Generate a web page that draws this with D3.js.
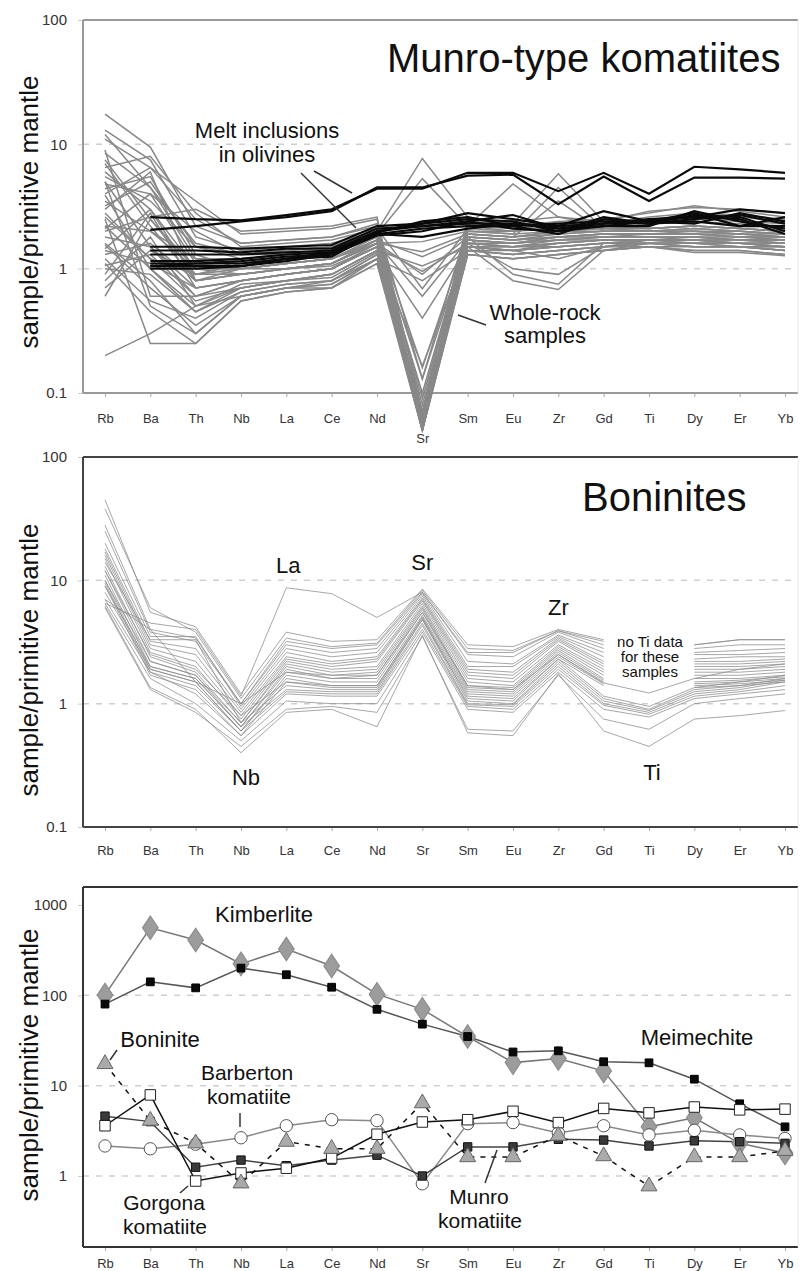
<!DOCTYPE html>
<html>
<head>
<meta charset="utf-8">
<script src="https://cdn.jsdelivr.net/npm/d3@7"></script>
<style>
  body { margin: 0; background: #fff; }
  svg { font-family: "Liberation Sans", Arial, Helvetica, sans-serif; }
</style>
</head>
<body>
<script>
// Data
const elements = ["Rb","Ba","Th","Nb","La","Ce","Nd","Sr","Sm","Eu","Zr","Gd","Ti","Dy","Er","Yb"];
const yTicksTop = [0.1, 1, 10, 100];
const yTicksBottom = [1, 10, 100, 1000];

// Munro-type komatiites: melt inclusions in olivines (no Rb)
const meltInclusions = [
  [null, 2.6, 2.5, 2.45, 2.7, 3.0, 4.4, 4.4, 5.9, 5.9, 4.2, 5.9, 4.0, 6.6, 6.3, 5.9],
  [null, 2.05, 2.2, 2.4, 2.6, 2.9, 4.5, 4.5, 5.6, 5.7, 3.3, 5.5, 3.5, 5.4, 5.4, 5.3],
  [null, 1.5, 1.5, 1.45, 1.5, 1.55, 2.2, 2.3, 2.8, 2.5, 2.2, 2.9, 2.4, 2.6, 3.0, 2.8],
  [null, 1.4, 1.4, 1.35, 1.45, 1.45, 2.1, 2.2, 2.4, 2.7, 2.1, 2.3, 2.4, 2.8, 2.2, 2.6],
  [null, 1.3, 1.3, 1.3, 1.35, 1.4, 2.0, 2.3, 2.5, 2.4, 2.0, 2.6, 2.3, 2.5, 2.7, 2.3],
  [null, 1.15, 1.15, 1.2, 1.3, 1.35, 2.0, 2.2, 2.3, 2.3, 2.1, 2.2, 2.2, 2.9, 2.4, 2.1],
  [null, 1.1, 1.1, 1.1, 1.2, 1.35, 1.9, 2.1, 2.2, 2.2, 2.3, 2.4, 2.3, 2.7, 2.6, 2.0],
  [null, 1.05, 1.05, 1.05, 1.15, 1.3, 1.85, 2.0, 2.4, 2.1, 2.0, 2.2, 2.4, 2.3, 2.8, 2.4],
  [null, 1.05, 1.1, 1.15, 1.25, 1.3, 1.9, 1.8, 2.1, 2.3, 2.2, 2.3, 2.5, 2.6, 2.5, 1.9],
  [null, 1.0, 1.0, 1.05, 1.2, 1.25, 1.95, 2.4, 2.6, 2.2, 1.9, 2.5, 2.3, 2.4, 2.2, 2.2]
];

// Munro-type komatiites: whole-rock samples
const wholeRock = [
  [17.5, 9.5, 2.2, 1.6, 1.7, 1.8, 2.2, 0.06, 2.2, 2.0, 2.4, 2.3, 2.6, 2.8, 2.7, 2.5],
  [13, 7.5, 1.8, 1.4, 1.5, 1.6, 2.0, 0.05, 1.9, 1.8, 2.0, 2.1, 2.1, 2.2, 2.1, 2.0],
  [11, 6.5, 3.5, 1.9, 2.0, 2.1, 2.5, 0.07, 2.4, 2.4, 2.6, 2.4, 2.9, 3.1, 3.0, 2.8],
  [8.5, 4.5, 1.2, 1.1, 1.2, 1.3, 1.8, 0.055, 1.8, 1.7, 1.9, 2.0, 2.0, 2.0, 1.9, 1.8],
  [7.5, 2.5, 0.9, 0.9, 1.0, 1.1, 1.7, 0.05, 1.7, 1.6, 1.8, 1.9, 1.9, 1.9, 1.9, 1.8],
  [6.5, 8.0, 2.8, 1.5, 1.6, 1.7, 2.1, 0.06, 2.0, 2.0, 2.1, 2.2, 2.1, 2.2, 2.1, 2.0],
  [5.5, 3.5, 1.5, 1.2, 1.3, 1.4, 1.9, 0.08, 1.9, 1.8, 1.9, 2.0, 2.0, 2.1, 2.0, 1.9],
  [5.0, 1.5, 0.6, 0.8, 0.9, 1.0, 1.5, 0.065, 1.6, 1.5, 1.7, 1.8, 1.8, 1.8, 1.7, 1.7],
  [4.4, 5.5, 1.3, 1.0, 1.1, 1.2, 1.7, 0.07, 1.7, 1.6, 1.8, 1.8, 1.9, 1.9, 1.8, 1.7],
  [3.9, 1.0, 0.45, 0.7, 0.8, 0.9, 1.4, 0.055, 1.5, 1.4, 1.6, 1.7, 1.7, 1.7, 1.6, 1.6],
  [3.0, 6.0, 0.8, 1.0, 1.1, 1.2, 1.6, 0.1, 1.8, 1.7, 1.8, 1.9, 1.9, 2.0, 1.9, 1.8],
  [2.2, 2.0, 1.0, 1.0, 1.1, 1.2, 1.7, 0.13, 1.7, 1.6, 1.7, 1.8, 1.8, 1.8, 1.8, 1.7],
  [2.1, 4.0, 2.0, 1.3, 1.3, 1.4, 1.9, 0.16, 1.9, 1.8, 2.0, 2.0, 2.0, 2.0, 1.9, 1.9],
  [1.55, 0.7, 0.35, 0.6, 0.7, 0.75, 1.2, 0.05, 1.4, 1.3, 1.4, 1.5, 1.6, 1.6, 1.5, 1.5],
  [1.45, 3.0, 0.8, 0.9, 1.0, 1.1, 1.6, 0.05, 1.6, 1.5, 1.6, 1.7, 1.7, 1.7, 1.7, 1.6],
  [1.06, 1.3, 0.6, 0.8, 0.9, 1.0, 1.5, 0.06, 1.5, 1.5, 1.6, 1.7, 1.7, 1.7, 1.6, 1.6],
  [0.8, 1.8, 0.5, 0.75, 0.8, 0.9, 1.4, 0.05, 1.5, 1.4, 1.5, 1.6, 1.6, 1.6, 1.6, 1.5],
  [0.6, 2.5, 1.0, 0.9, 1.0, 1.05, 1.5, 0.07, 1.6, 1.6, 1.7, 1.7, 1.7, 1.8, 1.7, 1.7],
  [0.2, 0.3, 0.5, 0.6, 0.7, 0.8, 1.2, 0.05, 1.3, 1.2, 1.3, 1.4, 1.5, 1.4, 1.4, 1.3],
  [2.5, 0.25, 0.25, 0.55, 0.65, 0.7, 1.1, 0.05, 1.3, 1.2, 1.3, 1.4, 1.5, 1.35, 1.35, 1.27],
  [1.2, 0.55, 0.4, 0.65, 0.75, 0.8, 1.3, 0.06, 1.4, 1.3, 1.4, 1.5, 1.6, 1.5, 1.5, 1.4],
  [9.0, 0.6, 0.6, 0.7, 0.8, 0.85, 1.35, 0.07, 1.5, 1.4, 1.5, 1.6, 1.6, 1.6, 1.5, 1.5],
  [6.0, 3.0, 1.0, 1.0, 1.0, 1.1, 1.6, 0.9, 1.8, 1.7, 1.8, 1.9, 1.9, 1.9, 1.8, 1.8],
  [2.8, 1.2, 0.9, 1.1, 1.2, 1.4, 2.0, 7.7, 2.6, 2.3, 5.8, 2.4, 2.3, 2.5, 2.4, 2.3],
  [3.5, 2.0, 1.2, 1.2, 1.3, 1.4, 1.9, 5.3, 2.2, 4.8, 2.6, 2.2, 2.3, 2.4, 2.3, 2.2],
  [1.8, 1.5, 0.7, 0.8, 0.9, 1.0, 1.6, 1.65, 2.0, 1.9, 4.5, 2.1, 2.1, 2.2, 2.1, 2.0],
  [1.3, 1.6, 0.8, 0.9, 1.0, 1.1, 1.6, 1.37, 1.9, 1.8, 3.5, 2.0, 2.0, 2.0, 2.0, 1.9],
  [4.8, 4.0, 1.1, 1.0, 1.1, 1.2, 1.7, 1.25, 1.8, 0.9, 0.75, 1.6, 1.7, 1.7, 1.7, 1.6],
  [2.2, 1.0, 0.5, 0.7, 0.8, 0.9, 1.4, 1.05, 1.5, 0.8, 0.68, 1.4, 1.6, 1.5, 1.5, 1.4],
  [0.9, 2.8, 0.7, 0.8, 0.9, 1.0, 1.5, 0.95, 1.6, 1.0, 0.9, 1.5, 1.7, 1.6, 1.6, 1.5],
  [1.6, 0.8, 0.3, 0.6, 0.7, 0.7, 1.2, 0.8, 1.4, 1.4, 1.2, 1.5, 1.6, 1.5, 1.5, 1.4],
  [3.2, 5.0, 1.5, 1.3, 1.4, 1.5, 2.1, 0.69, 2.1, 2.0, 2.2, 2.1, 2.1, 2.2, 2.1, 2.0],
  [7.0, 2.2, 0.8, 0.9, 1.0, 1.1, 1.6, 0.6, 1.7, 1.6, 1.7, 1.8, 1.8, 1.8, 1.7, 1.7],
  [2.6, 1.2, 0.55, 0.7, 0.8, 0.9, 1.4, 0.4, 1.5, 1.5, 1.5, 1.6, 1.7, 1.6, 1.6, 1.5],
  [1.0, 0.9, 0.45, 0.65, 0.75, 0.8, 1.3, 0.165, 1.5, 1.4, 1.5, 1.6, 1.6, 1.6, 1.6, 1.5],
  [4.0, 6.5, 2.5, 1.6, 1.7, 1.8, 2.3, 0.13, 2.2, 2.1, 2.3, 2.2, 2.5, 2.7, 2.6, 2.4],
  [0.7, 1.4, 0.9, 1.0, 1.1, 1.2, 1.8, 0.09, 1.8, 1.7, 1.8, 1.9, 1.9, 1.9, 1.8, 1.8],
  [12, 4.5, 1.6, 1.3, 1.4, 1.5, 2.0, 0.06, 2.0, 1.9, 2.0, 2.1, 2.0, 2.1, 2.0, 1.9],
  [2.0, 2.6, 3.0, 2.0, 2.1, 2.2, 2.6, 0.05, 2.4, 2.2, 2.4, 2.5, 2.8, 3.2, 2.9, 2.6],
  [1.4, 1.1, 0.7, 0.8, 0.9, 1.0, 1.5, 0.05, 1.6, 1.5, 1.6, 1.7, 1.7, 1.7, 1.6, 1.6],
  [5.0, 0.5, 0.3, 0.6, 0.7, 0.75, 1.2, 0.055, 1.4, 1.3, 1.4, 1.5, 1.5, 1.5, 1.5, 1.4],
  [1.1, 0.45, 0.25, 0.55, 0.65, 0.7, 1.1, 0.06, 1.3, 1.2, 1.3, 1.4, 1.5, 1.4, 1.4, 1.3]
];

// Boninites (null = no Ti data)
const boninites = [
  [45, 5.5, 4.2, 1.2, 3.8, 3.2, 3.3, 8.5, 3.0, 2.9, 4.0, 3.3, null, 3.0, 3.3, 3.3],
  [38, 6.0, 3.8, 1.1, 3.4, 2.9, 3.1, 8.3, 2.8, 2.7, 3.9, 3.0, null, 2.8, 3.0, 3.0],
  [28, 4.0, 3.4, 1.0, 3.2, 2.8, 3.0, 8.0, 2.5, 2.4, 3.8, 2.8, null, 2.6, 2.7, 2.8],
  [25, 3.8, 3.2, 1.0, 3.0, 2.6, 2.8, 7.8, 2.2, 2.1, 3.6, 2.6, null, 2.5, 2.5, 2.6],
  [20, 3.5, 3.5, 0.95, 2.8, 2.4, 2.6, 7.5, 2.0, 2.0, 3.5, 2.4, null, 2.3, 2.4, 2.4],
  [18, 3.2, 2.8, 0.9, 2.6, 2.2, 2.4, 7.2, 1.9, 1.8, 3.4, 2.2, null, 2.2, 2.2, 2.3],
  [17, 3.0, 2.5, 0.85, 2.4, 2.1, 2.3, 7.0, 1.8, 1.7, 3.3, 2.1, null, 2.1, 2.1, 2.2],
  [16, 2.8, 2.2, 0.8, 2.3, 2.0, 2.2, 6.8, 1.7, 1.6, 3.2, 2.0, null, 2.0, 2.0, 2.1],
  [15, 2.6, 2.0, 0.75, 2.2, 1.9, 2.0, 6.5, 1.6, 1.5, 3.0, 1.9, null, 1.9, 1.9, 2.0],
  [14, 3.3, 3.3, 0.7, 2.1, 1.8, 1.9, 6.2, 1.5, 1.4, 2.9, 1.8, null, 1.8, 1.8, 1.9],
  [13, 2.4, 1.8, 0.7, 2.0, 1.7, 1.8, 6.0, 1.4, 1.35, 2.8, 1.7, null, 1.7, 1.7, 1.8],
  [12, 2.2, 1.7, 0.65, 1.9, 1.6, 1.7, 5.8, 1.35, 1.3, 2.7, 1.6, null, 1.6, 1.6, 1.7],
  [11, 2.0, 1.6, 0.65, 1.8, 1.6, 1.6, 5.5, 1.3, 1.25, 2.6, 1.55, null, 1.5, 1.55, 1.65],
  [10, 1.9, 1.5, 0.6, 1.7, 1.5, 1.5, 5.2, 1.25, 1.2, 2.5, 1.5, null, 1.45, 1.5, 1.6],
  [9.5, 1.8, 1.4, 0.6, 1.6, 1.4, 1.4, 5.0, 1.2, 1.15, 2.4, 1.45, null, 1.4, 1.45, 1.55],
  [9, 1.7, 1.3, 0.55, 1.5, 1.35, 1.35, 4.8, 1.15, 1.1, 2.3, 1.4, null, 1.35, 1.4, 1.5],
  [6.5, 4.5, 4.0, 1.15, 8.7, 7.8, 5.0, 8.0, 2.6, 2.6, 3.9, 3.2, null, 3.0, 3.3, 3.3],
  [7, 4.0, 1.5, 1.0, 1.8, 1.7, 1.7, 5.5, 1.4, 1.3, 2.5, 1.47, 1.22, 1.6, 1.9, 2.1],
  [12, 2.5, 1.9, 0.8, 1.5, 1.4, 1.4, 5.0, 1.1, 1.05, 2.3, 1.15, 0.95, 1.35, 1.5, 1.7],
  [10, 2.2, 1.7, 0.7, 1.4, 1.3, 1.3, 4.8, 1.05, 1.0, 2.2, 1.1, 0.9, 1.3, 1.4, 1.6],
  [9, 2.0, 1.6, 0.65, 1.3, 1.25, 1.25, 4.5, 1.0, 0.98, 2.1, 1.05, 0.88, 1.25, 1.35, 1.55],
  [8, 1.9, 1.5, 0.6, 1.25, 1.2, 1.2, 4.3, 0.98, 0.95, 2.0, 1.0, 0.85, 1.2, 1.3, 1.5],
  [7, 1.8, 1.2, 0.55, 1.2, 1.15, 1.15, 4.0, 0.95, 0.9, 1.9, 0.97, 0.82, 1.15, 1.25, 1.4],
  [6.5, 1.6, 1.0, 0.5, 1.05, 1.0, 1.0, 3.8, 0.9, 0.85, 1.8, 0.9, 0.78, 1.1, 1.2, 1.3],
  [6.0, 1.3, 0.85, 0.45, 0.9, 0.95, 0.85, 3.5, 0.62, 0.6, 1.7, 0.75, 0.62, 1.0, 1.1, 1.2],
  [6.2, 1.35, 0.9, 0.4, 0.85, 0.9, 0.65, 3.6, 0.58, 0.55, 1.75, 0.6, 0.45, 0.75, 0.8, 0.88]
];

// Bottom panel: single representative compositions
const kimberlite = [101, 560, 410, 223, 325, 211, 103, 70, 35, 18, 20, 14.5, 3.5, 4.4, 2.3, 1.8];
const meimechite = [80, 141, 121, 200, 169, 123, 70, 48, 35, 23.6, 24.3, 18.4, 17.9, 11.8, 6.3, 3.5];
const boninite = [17.4, 4.1, 2.3, 0.83, 2.4, 2.0, 2.0, 6.4, 1.62, 1.62, 2.8, 1.66, 0.77, 1.62, 1.62, 1.9];
const barberton = [2.15, 2.0, 2.25, 2.65, 3.6, 4.2, 4.1, 0.82, 3.8, 3.9, 3.0, 3.6, 2.85, 3.2, 2.85, 2.6];
const gorgona = [3.6, 7.9, 0.88, 1.08, 1.22, 1.58, 2.9, 3.96, 4.2, 5.2, 3.9, 5.6, 5.0, 5.8, 5.4, 5.5];
const munro = [4.6, 4.0, 1.25, 1.5, 1.3, 1.5, 1.7, 1.0, 2.1, 2.1, 2.55, 2.5, 2.15, 2.45, 2.4, 2.3];

const svg = d3.select("body").append("svg").attr("width", 804).attr("height", 1271);

const x = d3.scalePoint().domain(elements).range([105, 785]);
const left = 83, right = 798;

// panel set-up
function drawPanel(yScale, box, opts) {
  const g = svg.append("g");
  // dashed grid
  g.selectAll(".grid")
    .data(opts.grid)
    .enter()
    .append("line")
    .attr("x1", left).attr("x2", right)
    .attr("y1", d => yScale(d)).attr("y2", d => yScale(d))
    .attr("stroke", "#cfcfcf")
    .attr("stroke-width", 1.5)
    .attr("stroke-dasharray", "6,7");

  // y axis
  const yAxis = d3.axisLeft(yScale).tickValues(opts.yTicks).tickFormat(d => d).tickSize(5).tickPadding(11);
  const ya = g.append("g").attr("transform", "translate(" + left + ",0)").call(yAxis);
  ya.select(".domain").remove();
  ya.selectAll("line").attr("stroke", "#ccc");
  ya.selectAll("text").attr("font-size", 15).attr("fill", "#333").attr("font-family", "Liberation Sans, Arial");

  // x axis
  const xAxis = d3.axisBottom(x).tickSize(4).tickPadding(opts.xPad);
  const xa = g.append("g").attr("transform", "translate(0," + box[1] + ")").call(xAxis);
  xa.select(".domain").remove();
  xa.selectAll("line").attr("stroke", "#aaa");
  xa.selectAll("text").attr("font-size", 13).attr("fill", "#333").attr("font-family", "Liberation Sans, Arial");
  if (opts.srDown) xa.selectAll(".tick").filter(d => d === "Sr").select("text").attr("dy", "2.25em");

  // frame
  g.append("line").attr("x1", left).attr("x2", right).attr("y1", box[0]).attr("y2", box[0])
    .attr("stroke", opts.frame).attr("stroke-width", 2);
  g.append("line").attr("x1", left).attr("x2", right).attr("y1", box[1]).attr("y2", box[1])
    .attr("stroke", opts.frame).attr("stroke-width", 2);
  g.append("line").attr("x1", left).attr("x2", left).attr("y1", box[0]).attr("y2", box[1])
    .attr("stroke", opts.frame).attr("stroke-width", 2);
  g.append("line").attr("x1", right).attr("x2", right).attr("y1", box[0]).attr("y2", box[1])
    .attr("stroke", "#e8e8e8").attr("stroke-width", 1);

  // y title
  g.append("text")
    .attr("transform", "translate(38," + opts.titleY + ") rotate(-90)")
    .attr("text-anchor", "middle")
    .attr("font-size", 26)
    .attr("fill", "#111")
    .text("sample/primitive mantle");
  return g;
}

function label(g, txt, xx, yy, size, anchor) {
  g.append("text").attr("x", xx).attr("y", yy)
    .attr("font-size", size).attr("text-anchor", anchor || "middle")
    .attr("fill", "#111").text(txt);
}
function leader(g, x1, y1, x2, y2) {
  g.append("line").attr("x1", x1).attr("y1", y1).attr("x2", x2).attr("y2", y2)
    .attr("stroke", "#333").attr("stroke-width", 1.5);
}

// ---- Top panel: Munro-type komatiites
const y1 = d3.scaleLog().domain([0.1, 100]).range([393, 20]);
const g1 = drawPanel(y1, [20, 393], { grid: [1, 10], yTicks: yTicksTop, xPad: 17, frame: "#9a9a9a", titleY: 212, srDown: true });
const line1 = d3.line().defined(d => d != null).x((d, i) => x(elements[i])).y(d => y1(d));

g1.selectAll(".wr").data(wholeRock).enter().append("path")
  .attr("d", line1).attr("fill", "none").attr("stroke", "#888").attr("stroke-width", 1.5);
g1.selectAll(".mi").data(meltInclusions).enter().append("path")
  .attr("d", line1).attr("fill", "none").attr("stroke", "#0a0a0a").attr("stroke-width", 2.2);

label(g1, "Munro-type komatiites", 387, 72, 40, "start");
label(g1, "Melt inclusions", 267, 138, 22);
label(g1, "in olivines", 267, 162, 22);
leader(g1, 301, 173, 356, 228);
leader(g1, 314, 171, 352, 193);
label(g1, "Whole-rock", 545, 320, 22);
label(g1, "samples", 545, 343, 22);
leader(g1, 458, 315, 486, 325);

// ---- Middle panel: Boninites
const y2 = d3.scaleLog().domain([0.1, 100]).range([827, 457]);
const g2 = drawPanel(y2, [457, 827], { grid: [1, 10], yTicks: yTicksTop, xPad: 15, frame: "#444", titleY: 660 });
const line2 = d3.line().defined(d => d != null).x((d, i) => x(elements[i])).y(d => y2(d));

g2.selectAll(".bon").data(boninites).enter().append("path")
  .attr("d", line2).attr("fill", "none").attr("stroke", "#8a8a8a").attr("stroke-width", 1).attr("stroke-opacity", 0.75);

label(g2, "Boninites", 582, 511, 40, "start");
label(g2, "La", x("La") + 2, 573, 22);
label(g2, "Sr", x("Sr"), 570, 22);
label(g2, "Zr", x("Zr"), 615, 22);
label(g2, "Nb", x("Nb") + 5, 785, 22);
label(g2, "Ti", x("Ti") + 3, 780, 22);
label(g2, "no Ti data", 650, 647, 15);
label(g2, "for these", 650, 662, 15);
label(g2, "samples", 650, 677, 15);

// ---- Bottom panel: comparison
const y3 = d3.scaleLog().domain([1, 1000]).range([1176, 905]);
const g3 = drawPanel(y3, [887, 1247], { grid: [1, 10, 100], yTicks: yTicksBottom, xPad: 8, frame: "#333", titleY: 1065 });
const line3 = d3.line().x((d, i) => x(elements[i])).y(d => y3(d));

const series = [
  { v: kimberlite, line: "#777", dash: null, shape: d3.symbolDiamond, size: 160, fill: "#9c9c9c", stroke: "#8a8a8a" },
  { v: meimechite, line: "#555", dash: null, shape: d3.symbolSquare, size: 60, fill: "#0a0a0a", stroke: "#000" },
  { v: barberton, line: "#888", dash: null, shape: d3.symbolCircle, size: 120, fill: "#fff", stroke: "#555" },
  { v: munro, line: "#444", dash: null, shape: d3.symbolSquare, size: 70, fill: "#3a3a3a", stroke: "#111" },
  { v: gorgona, line: "#111", dash: null, shape: d3.symbolSquare, size: 110, fill: "#fff", stroke: "#222" },
  { v: boninite, line: "#111", dash: "5,6", shape: d3.symbolTriangle, size: 110, fill: "#aaa", stroke: "#666" }
];

series.forEach(s => {
  g3.append("path").attr("d", line3(s.v)).attr("fill", "none")
    .attr("stroke", s.line).attr("stroke-width", 1.5)
    .attr("stroke-dasharray", s.dash);
});
series.forEach(s => {
  g3.selectAll(null).data(s.v).enter().append("path")
    .attr("d", d3.symbol().type(s.shape).size(s.size))
    .attr("transform", (d, i) => "translate(" + x(elements[i]) + "," + y3(d) + ")" + (s.shape === d3.symbolDiamond ? " scale(1.15,1)" : ""))
    .attr("fill", s.fill).attr("stroke", s.stroke).attr("stroke-width", 1);
});

label(g3, "Kimberlite", 264, 922, 22);
label(g3, "Meimechite", 697, 1045, 22);
label(g3, "Boninite", 160, 1047, 22);
leader(g3, 117, 1050, 110, 1060);
label(g3, "Barberton", 247, 1080, 21);
label(g3, "komatiite", 249, 1104, 21);
leader(g3, 240, 1113, 240, 1127);
label(g3, "Gorgona", 164, 1210, 21);
label(g3, "komatiite", 165, 1234, 21);
leader(g3, 180, 1193, 188, 1186);
label(g3, "Munro", 479, 1204, 21);
label(g3, "komatiite", 480, 1228, 21);
leader(g3, 485, 1183, 497, 1150);
</script>
</body>
</html>
